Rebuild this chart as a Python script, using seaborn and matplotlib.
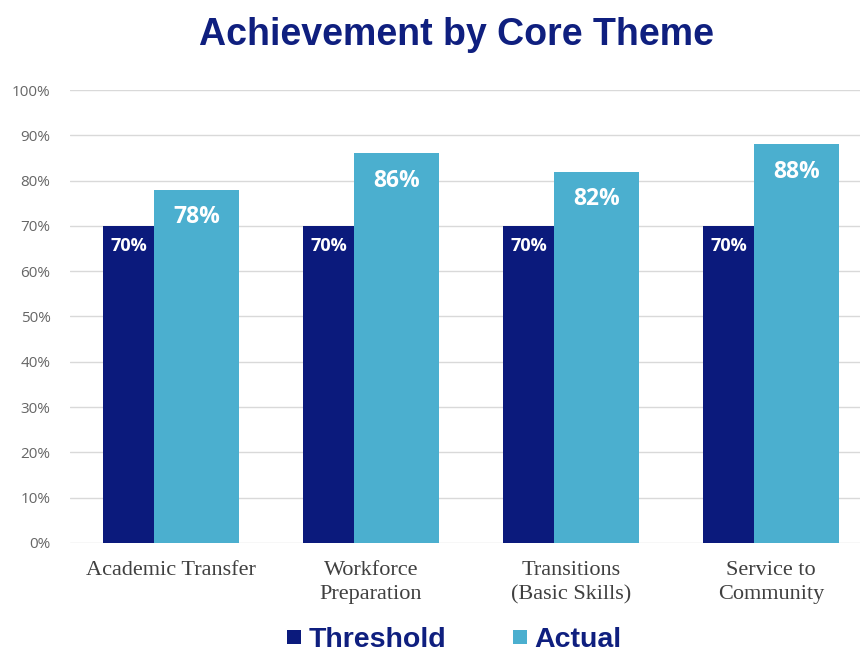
import matplotlib
matplotlib.use("Agg")
import matplotlib.pyplot as plt
from matplotlib.lines import Line2D
from matplotlib.ticker import PercentFormatter
import seaborn as sns
import pandas as pd

# data
themes = ["Academic Transfer", "Workforce\nPreparation",
          "Transitions\n(Basic Skills)", "Service to\nCommunity"]
threshold = [70, 70, 70, 70]
actual = [78, 86, 82, 88]
series_names = ["Threshold", "Actual"]
colors = ["#0b1a7c", "#4bafcf"]
navy = "#0f1f7f"

df = pd.DataFrame({
    "theme": themes * 2,
    "value": threshold + actual,
    "series": [series_names[0]] * 4 + [series_names[1]] * 4,
})

sns.set_style("white")
fig = plt.figure(figsize=(8.6, 6.56), dpi=100)
ax = fig.add_axes([0.0814, 0.1723, 0.9186, 0.6905])

sns.barplot(data=df, x="theme", y="value", hue="series", palette=colors,
            width=0.68, gap=0, ax=ax, legend=False, saturation=1)

# excel-style: threshold bar narrower than actual bar
for cont, (off, w) in zip(ax.containers, [(-0.34, 0.255), (-0.085, 0.425)]):
    for i, p in enumerate(cont.patches):
        p.set_x(i + off)
        p.set_width(w)
        p.set_linewidth(0)

# value labels inside bars
for cont, size, drop in zip(ax.containers, [13, 16.5], [4.4, 6.0]):
    for p in cont.patches:
        h = p.get_height()
        ax.text(p.get_x() + p.get_width() / 2, h - drop, f"{h:.0f}%",
                ha="center", va="center", color="white", fontsize=size,
                fontweight="bold", family="Open Sans")

ax.set_ylim(0, 100)
ax.set_xlim(-0.505, 3.445)
ax.set_yticks(range(0, 101, 10))
ax.yaxis.set_major_formatter(PercentFormatter(decimals=0))
ax.grid(axis="y", color="#d9d9d9", linewidth=1)
ax.set_axisbelow(True)
sns.despine(ax=ax, left=True, bottom=True, top=True, right=True)
ax.tick_params(axis="y", length=0, labelsize=11, labelcolor="#666666", pad=14)
ax.tick_params(axis="x", length=0, pad=13)
for t in ax.get_yticklabels():
    t.set_family("Open Sans")
for t in ax.get_xticklabels():
    t.set_family("Liberation Serif")
    t.set_fontsize(16)
    t.set_color("#404040")
    t.set_linespacing(1.35)
ax.set_xlabel("")
ax.set_ylabel("")

fig.text(0.531, 0.946, "Achievement by Core Theme", ha="center", va="center",
         fontsize=27, fontweight="bold", color=navy, family="Liberation Sans")

handles = [Line2D([], [], marker="s", linestyle="", markersize=10,
                  markerfacecolor=c, markeredgewidth=0) for c in colors]
leg = fig.legend(handles, series_names, loc="center", bbox_to_anchor=(0.526, 0.024),
                 ncol=2, frameon=False, handletextpad=0.1, columnspacing=2.2,
                 handlelength=0.8,
                 prop={"family": "Liberation Sans", "weight": "bold", "size": 20.5})
for t in leg.get_texts():
    t.set_color(navy)

fig.savefig("out.png", dpi=100)
